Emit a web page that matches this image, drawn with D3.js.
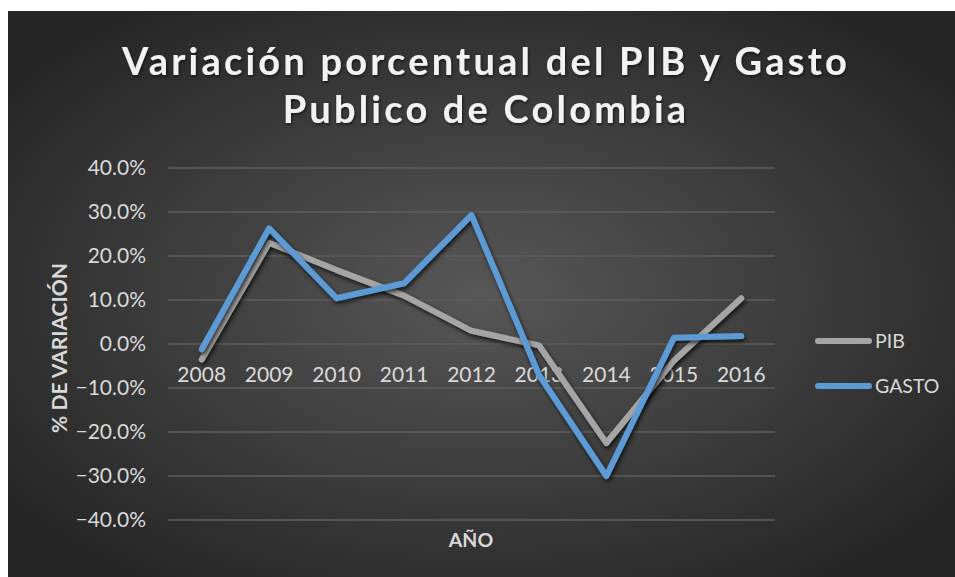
<!DOCTYPE html>
<html>
<head>
<meta charset="utf-8">
<script src="https://d3js.org/d3.v7.min.js"></script>
<style>
  body { margin: 0; background: #fff; }
  svg { display: block; font-family: Lato, "Open Sans", sans-serif; }
</style>
</head>
<body>
<div id="chart"></div>
<script>
// data
var years = ["2008", "2009", "2010", "2011", "2012", "2013", "2014", "2015", "2016"];
var pib   = [-3.5, 23.0, 16.8, 11.0, 3.0, -0.3, -22.5, -3.8, 10.4];
var gasto = [-1.2, 26.3, 10.4, 13.8, 29.3, -7.0, -30.0, 1.4, 1.8];
var yTicks = [40, 30, 20, 10, 0, -10, -20, -30, -40];
var titleLines = ["Variación porcentual del PIB y Gasto", "Publico de Colombia"];

var W = 955, H = 577;
var margin = {top: 168, left: 168, right: 180, bottom: 57};

var svg = d3.select("#chart").append("svg")
  .attr("width", W)
  .attr("height", H);

var defs = svg.append("defs");
var grad = defs.append("radialGradient")
  .attr("id", "bg")
  .attr("cx", "50%").attr("cy", "50%").attr("r", "62%");
grad.append("stop").attr("offset", "0%").attr("stop-color", "#575757");
grad.append("stop").attr("offset", "100%").attr("stop-color", "#262626");

var shadow = defs.append("filter").attr("id", "shadow")
  .attr("x", "-10%").attr("y", "-10%").attr("width", "120%").attr("height", "120%");
shadow.append("feDropShadow")
  .attr("dx", 1.5).attr("dy", 2.5).attr("stdDeviation", 2)
  .attr("flood-color", "#000").attr("flood-opacity", 0.75);

var tshadow = defs.append("filter").attr("id", "tshadow");
tshadow.append("feDropShadow")
  .attr("dx", 1).attr("dy", 1.5).attr("stdDeviation", 1.5)
  .attr("flood-color", "#000").attr("flood-opacity", 0.6);

// chart area background
svg.append("rect")
  .attr("x", 8).attr("y", 11)
  .attr("width", W - 8).attr("height", H - 11)
  .attr("fill", "url(#bg)");

// title
svg.append("g").selectAll("text")
  .data(titleLines)
  .join("text")
    .attr("x", 486)
    .attr("y", function(d, i) { return 75 + i * 48; })
    .attr("text-anchor", "middle")
    .attr("fill", "#f2f2f2")
    .attr("font-size", 38)
    .attr("font-weight", 700)
    .attr("letter-spacing", 3.2)
    .attr("filter", "url(#tshadow)")
    .text(function(d) { return d; });

var plotW = 775 - margin.left;
var x = d3.scaleBand().domain(years).range([margin.left, margin.left + plotW]);
var y = d3.scaleLinear().domain([-40, 40]).range([520, 168]);

// gridlines
svg.append("g")
  .selectAll("line")
  .data(yTicks)
  .join("line")
    .attr("x1", margin.left).attr("x2", margin.left + plotW)
    .attr("y1", function(d) { return y(d); })
    .attr("y2", function(d) { return y(d); })
    .attr("stroke", "#5e5e5e")
    .attr("stroke-width", 1.3);

// y axis labels
var yAxis = svg.append("g")
  .attr("transform", "translate(" + margin.left + ",0)")
  .call(d3.axisLeft(y).tickValues(yTicks).tickSize(0).tickPadding(22)
    .tickFormat(function(d) { return d3.format(".1f")(d) + "%"; }));
yAxis.select(".domain").remove();
yAxis.selectAll("text")
  .attr("fill", "#d9d9d9")
  .attr("font-size", 21)
  .attr("font-family", "Lato, sans-serif");

// x axis labels, sitting at 0%
var xAxis = svg.append("g")
  .attr("transform", "translate(0," + y(0) + ")")
  .call(d3.axisBottom(x).tickSize(0).tickPadding(23));
xAxis.select(".domain").remove();
xAxis.selectAll("text")
  .attr("fill", "#d9d9d9")
  .attr("font-size", 21)
  .attr("font-family", "Lato, sans-serif");

// lines
var series = [
  {name: "PIB", values: pib, color: "#a5a5a5"},
  {name: "GASTO", values: gasto, color: "#5b9bd5"}
];

var line = d3.line()
  .x(function(d, i) { return x(years[i]) + x.bandwidth() / 2; })
  .y(function(d) { return y(d); });

svg.append("g")
  .selectAll("path")
  .data(series)
  .join("path")
    .attr("fill", "none")
    .attr("stroke", function(d) { return d.color; })
    .attr("stroke-width", 6)
    .attr("stroke-linejoin", "round")
    .attr("stroke-linecap", "round")
    .attr("filter", "url(#shadow)")
    .attr("d", function(d) { return line(d.values); });

// legend
var legend = svg.append("g")
  .selectAll("g")
  .data(series)
  .join("g")
    .attr("transform", function(d, i) { return "translate(818," + (341 + i * 45) + ")"; });
legend.append("line")
  .attr("x1", 0).attr("x2", 51)
  .attr("stroke", function(d) { return d.color; })
  .attr("stroke-width", 6)
  .attr("stroke-linecap", "round");
legend.append("text")
  .attr("x", 57)
  .attr("dy", "0.36em")
  .attr("fill", "#d9d9d9")
  .attr("font-size", 19.5)
  .text(function(d) { return d.name; });

// axis titles
svg.append("text")
  .attr("transform", "translate(67,348) rotate(-90)")
  .attr("text-anchor", "middle")
  .attr("fill", "#d9d9d9")
  .attr("font-size", 21)
  .attr("font-weight", 700)
  .text("% DE VARIACIÓN");

svg.append("text")
  .attr("x", 471)
  .attr("y", 547)
  .attr("text-anchor", "middle")
  .attr("fill", "#d9d9d9")
  .attr("font-size", 19.5)
  .attr("font-weight", 700)
  .text("AÑO");
</script>
</body>
</html>
